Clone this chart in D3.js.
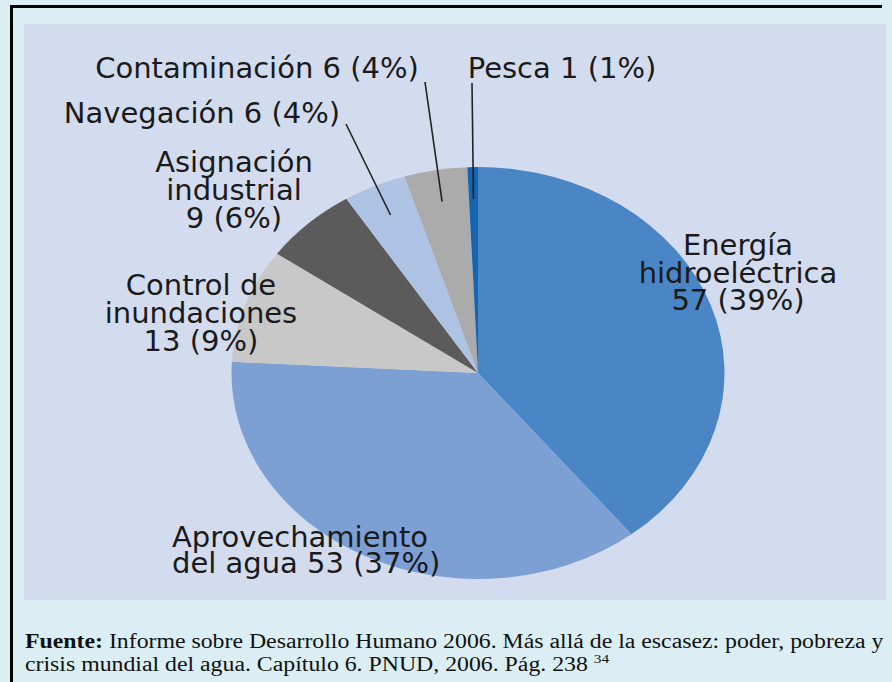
<!DOCTYPE html>
<html lang="es">
<head>
  <meta charset="utf-8" />
  <script src="https://d3js.org/d3.v7.min.js"></script>
  <style>
    body { margin: 0; background: #daeef3; }
    .label { font-family: "DejaVu Sans", sans-serif; font-size: 29px; fill: #1a1a1a; }
    .leader { stroke: #222; stroke-width: 1.6px; }
    .footer { font-family: "Liberation Serif", "Times New Roman", serif; font-size: 20px; fill: #111; }
  </style>
</head>
<body>
  <div id="visu"></div>

  <script>
    // datos: usos del agua en grandes presas
    const categorias = ["Energía hidroeléctrica", "Aprovechamiento del agua", "Control de inundaciones",
      "Asignación industrial", "Navegación", "Contaminación", "Pesca"];
    const valores = [57, 53, 13, 9, 6, 6, 1];
    const porcentajes = [39, 37, 9, 6, 4, 4, 1];
    const colores = ["#4a86c5", "#7c9fd4", "#c8c8c8", "#5b5b5b", "#aec2e4", "#ababab", "#1665b1"];

    // texto de cada etiqueta, por líneas
    const lineasEtiqueta = [
      ["Energía", "hidroeléctrica", "57 (39%)"],
      ["Aprovechamiento", "del agua 53 (37%)"],
      ["Control de", "inundaciones", "13 (9%)"],
      ["Asignación", "industrial", "9 (6%)"],
      ["Navegación 6 (4%)"],
      ["Contaminación 6 (4%)"],
      ["Pesca 1 (1%)"]
    ];

    const W = 892, H = 682;
    const cx = 478, cy = 373, ry = 206, rx = 246.5;

    // colocación manual de las etiquetas (x, primera línea base, anclaje)
    const posEtiqueta = [
      { x: 738, y: 255, anchor: "middle", lh: 27.5 },
      { x: 172, y: 547, anchor: "start", lh: 26 },
      { x: 201, y: 295, anchor: "middle", lh: 28 },
      { x: 234, y: 172, anchor: "middle", lh: 28 },
      { x: 202, y: 123, anchor: "middle", lh: 28 },
      { x: 257, y: 78, anchor: "middle", lh: 28 },
      { x: 562, y: 78, anchor: "middle", lh: 28 }
    ];
    // extremo exterior de las líneas guía (solo sectores pequeños)
    const guias = { 4: [346, 124], 5: [425, 82], 6: [472, 83] };

    const svg = d3.select("#visu").append("svg")
      .attr("width", W)
      .attr("height", H);

    svg.append("rect").attr("width", W).attr("height", H).attr("fill", "#daeef3");
    svg.append("rect")
      .attr("x", 24).attr("y", 24)
      .attr("width", 862).attr("height", 576)
      .attr("fill", "#d3dcee");

    // marco negro (izquierda y arriba)
    svg.append("line").attr("x1", 11.5).attr("y1", 5).attr("x2", 11.5).attr("y2", H).attr("stroke", "#000").attr("stroke-width", 3);
    svg.append("line").attr("x1", 10).attr("y1", 6.5).attr("x2", 882).attr("y2", 6.5).attr("stroke", "#000").attr("stroke-width", 3);

    const pie = d3.pie().sort(null).value(d => d);
    const arcs = pie(valores);

    const arc = d3.arc().innerRadius(0).outerRadius(ry);
    const arcGuia = d3.arc().innerRadius(ry * 0.845).outerRadius(ry * 0.845);

    const g = svg.append("g")
      .attr("transform", `translate(${cx},${cy}) scale(${rx / ry},1)`);

    g.selectAll("path")
      .data(arcs)
      .enter().append("path")
      .attr("d", arc)
      .attr("fill", (d, i) => colores[i]);

    // líneas guía
    Object.keys(guias).forEach(k => {
      const c = arcGuia.centroid(arcs[k]);
      svg.append("line")
        .attr("class", "leader")
        .attr("x1", cx + c[0] * rx / ry)
        .attr("y1", cy + c[1])
        .attr("x2", guias[k][0])
        .attr("y2", guias[k][1]);
    });

    // etiquetas
    lineasEtiqueta.forEach((lineas, i) => {
      const p = posEtiqueta[i];
      const t = svg.append("text")
        .attr("class", "label")
        .attr("text-anchor", p.anchor)
        .attr("x", p.x)
        .attr("y", p.y);
      lineas.forEach((l, j) => {
        t.append("tspan")
          .attr("x", p.x)
          .attr("y", p.y + j * p.lh)
          .text(l);
      });
    });

    // fuente (texto estirado como en el original)
    const pie2 = svg.append("g").attr("transform", "translate(25,0) scale(1.19,1)");
    const f1 = pie2.append("text").attr("class", "footer").attr("x", 0).attr("y", 648);
    f1.append("tspan").attr("font-weight", "bold").text("Fuente:");
    f1.append("tspan").text(" Informe sobre Desarrollo Humano 2006. Más allá de la escasez: poder, pobreza y");

    const f2 = pie2.append("text").attr("class", "footer").attr("x", 0).attr("y", 671);
    f2.append("tspan").text("crisis mundial del agua. Capítulo 6. PNUD, 2006. Pág. 238 ");
    f2.append("tspan").attr("font-size", "13px").attr("dy", -8).text("34");
  </script>
</body>
</html>
